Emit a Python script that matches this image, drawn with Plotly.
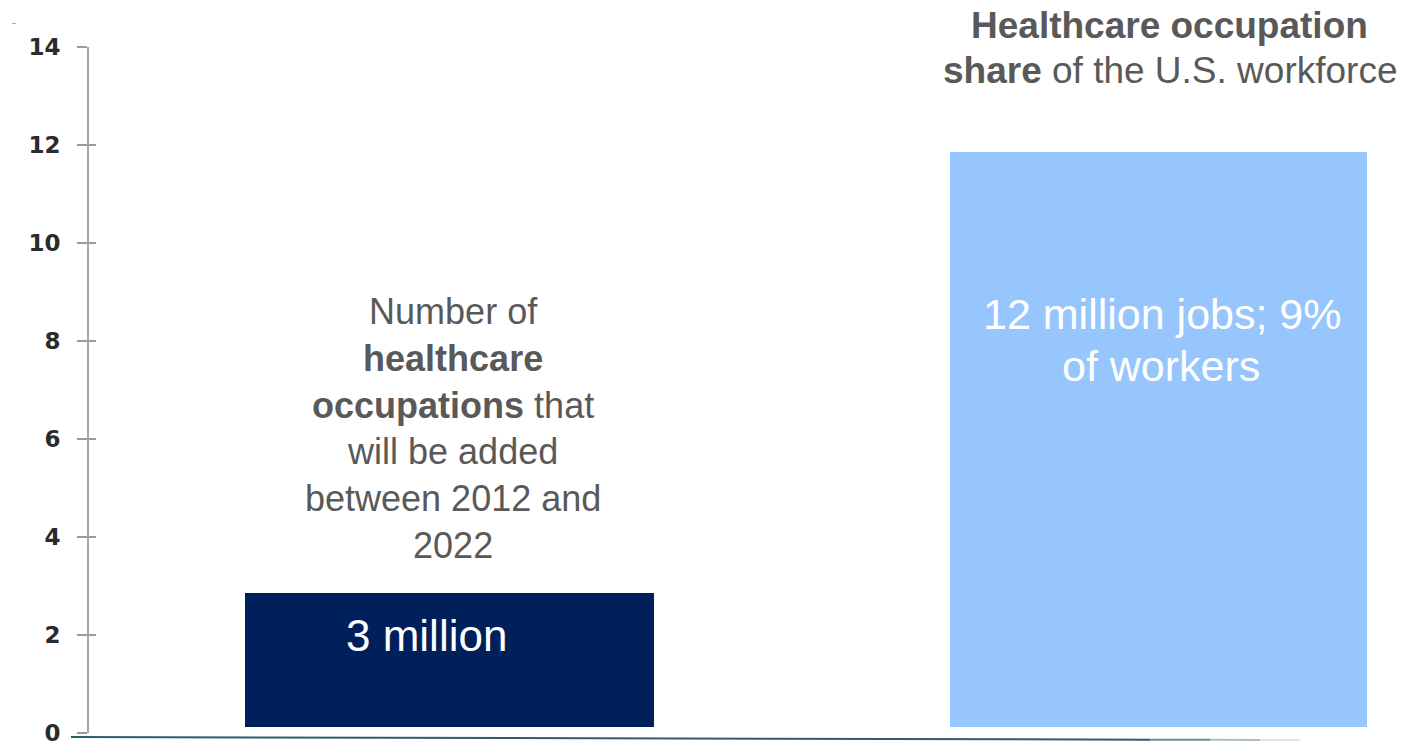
import plotly.graph_objects as go

# ---- data ----
categories = ["Healthcare occupations added 2012-2022", "Healthcare occupation share of U.S. workforce"]
values = [2.85, 11.85]          # bar tops (millions)
bar_colors = ["#00205C", "#96C6FD"]
tick_vals = [0, 2, 4, 6, 8, 10, 12, 14]
tick_text = ["0", "2", "4", "6", "8", "10", "12", "14"]
BASE = 0.12

x_pos = [0, 1]
widths = [0.577, 0.588]

TXT = "#595959"
FONT = "Liberation Sans, Arial, sans-serif"

fig = go.Figure()
fig.add_trace(go.Bar(
    x=x_pos, y=[v - BASE for v in values], base=BASE,
    width=widths, marker=dict(color=bar_colors, line=dict(width=0)),
    hovertext=categories, showlegend=False,
))
# dummy trace for inner tick axis
fig.add_trace(go.Scatter(x=[None], y=[None], yaxis="y2", showlegend=False))

ann = [
    dict(x=0.005, y=6.22, yref="y", text="Number of<br><b>healthcare</b><br><b>occupations</b> that<br>will be added<br>between 2012 and<br>2022",
         font=dict(size=36, color=TXT)),
    dict(x=-0.032, y=1.98, yref="y", text="3 million", font=dict(size=44, color="white")),
    dict(x=1.005, y=8.55, yref="y", text="12 million jobs; 9%", font=dict(size=43, color="white")),
    dict(x=1.003, y=7.5, yref="y", text="of workers", font=dict(size=43, color="white")),
    dict(x=1.016, y=1.032, yref="paper", text="<b>Healthcare occupation</b>", font=dict(size=37, color=TXT)),
    dict(x=1.016, y=0.966, yref="paper", text="<b>share</b> of the U.S. workforce", font=dict(size=37, color=TXT)),
]
annotations = []
for a in ann:
    a.update(xref="x", showarrow=False, xanchor="center", yanchor="middle")
    a["font"]["family"] = FONT
    annotations.append(a)

W, H = 1404, 741
ML, MT, MB = 89, 47, 8
def px(xp):  # pixel -> paper x
    return (xp - ML) / (W - ML)
def py(yp):  # pixel -> paper y
    return (H - MB - yp) / (H - MT - MB)

shapes = []
# bottom baseline, fading to the right
segs = [(71, 1150, 1.0), (1150, 1210, 0.7), (1210, 1260, 0.4), (1260, 1300, 0.15)]
for x0, x1, op in segs:
    y0 = 737 + (x0 - 71) / (1300 - 71) * 3
    y1 = 737 + (x1 - 71) / (1300 - 71) * 3
    shapes.append(dict(type="line", xref="paper", yref="paper", x0=px(x0), x1=px(x1),
                       y0=py(y0), y1=py(y1), line=dict(color="#2E5E6C", width=2), opacity=op, layer="above"))
# tiny mark top-left
shapes.append(dict(type="line", xref="paper", yref="paper", x0=px(12), x1=px(16), y0=py(23.5), y1=py(23.5),
                   line=dict(color="#aaaaaa", width=1)))

fig.update_layout(
    width=W, height=H,
    margin=dict(l=ML, r=0, t=MT, b=MB, autoexpand=False),
    plot_bgcolor="white", paper_bgcolor="white",
    bargap=0,
    xaxis=dict(range=[-0.5085, 1.3462], showgrid=False, zeroline=False, showticklabels=False,
               showline=False, ticks="", automargin=False),
    yaxis=dict(range=[0, 14], tickvals=tick_vals, ticktext=tick_text, showgrid=False, zeroline=False,
               showline=True, linecolor="#A6A6A6", linewidth=2, automargin=False,
               ticks="outside", ticklen=10, tickwidth=2, tickcolor="#9A9A9A",
               ticklabelstandoff=12, ticklabeloverflow="allow",
               tickfont=dict(family="DejaVu Sans, Verdana, sans-serif", size=23, color="#2b2b2b", weight="bold")),
    yaxis2=dict(range=[0, 14], overlaying="y", side="left", tickvals=tick_vals, showticklabels=False,
                showgrid=False, zeroline=False, showline=False, automargin=False,
                ticks="inside", ticklen=7, tickwidth=2, tickcolor="#9A9A9A"),
    annotations=annotations,
    shapes=shapes,
    showlegend=False,
)

fig.write_html("out.html")
